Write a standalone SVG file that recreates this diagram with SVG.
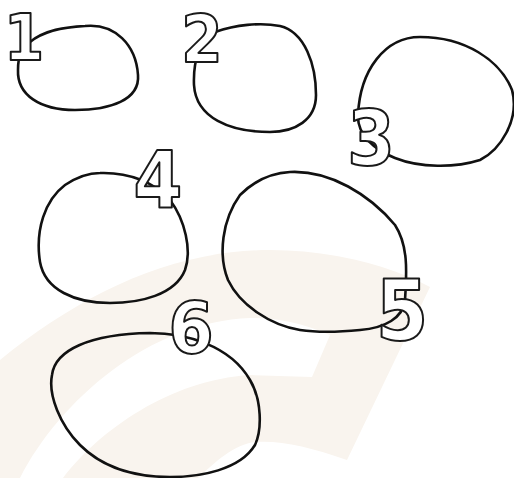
<svg xmlns="http://www.w3.org/2000/svg" width="514" height="478" viewBox="0 0 514 478">
<style>
.blob{fill:none;stroke:#111;stroke-width:2.6;stroke-linejoin:round;stroke-linecap:round}
.num{font-family:"DejaVu Sans Condensed","DejaVu Sans",sans-serif;font-weight:bold;font-stretch:condensed;fill:#fff;stroke:#1a1a1a;stroke-width:2;stroke-linejoin:round;text-anchor:middle}
.bg{fill:#f9f4ee}
</style>
<rect width="514" height="478" fill="#fff"/>
<path class="bg" d="M0,360 C80,295 170,250 270,250 C330,250 390,265 430,287 L347,460 C310,447 280,440 255,442 C235,444 215,462 198,478 L63,478 C100,430 170,380 250,375 L312,377 L330,335 C300,322 275,318 250,318 C150,322 60,400 20,478 L0,478 Z"/>
<g id="connectors"/>
<g id="node1">
<path class="blob" d="M30,42 C45,30 65,27 85,26 C115,23 136,45 138,75 C140,100 110,110 75,110 C40,110 17,95 18,70 C18,55 22,48 30,42 Z"/>
<text class="num" x="24" y="60" font-size="64">1</text>
</g>
<g id="node2">
<path class="blob" d="M215,32 C235,25 260,22 280,26 C305,32 316,65 316,95 C316,120 295,132 270,132 C230,132 196,118 194,85 C193,60 200,40 215,32 Z"/>
<text class="num" x="202" y="62" font-size="66">2</text>
</g>
<g id="node3">
<path class="blob" d="M358,115 C360,70 385,37 420,37 C465,37 500,60 512,90 C520,120 500,150 480,160 C455,168 420,168 395,158 C375,150 357,135 358,115 Z"/>
<text class="num" x="371" y="165" font-size="76">3</text>
</g>
<g id="node4">
<path class="blob" d="M100,173 C130,172 155,183 170,200 C185,220 192,250 185,270 C175,295 140,303 110,303 C75,303 45,290 40,262 C35,230 45,200 65,185 C77,177 90,173 100,173 Z"/>
<text class="num" x="158" y="207" font-size="78">4</text>
</g>
<g id="node5">
<path class="blob" d="M290,172 C330,170 370,195 395,225 C408,245 407,270 405,300 C403,318 385,328 360,330 C340,332 320,333 300,330 C270,325 240,305 228,280 C218,255 222,220 240,195 C255,180 272,173 290,172 Z"/>
<text class="num" x="402" y="340" font-size="84">5</text>
</g>
<g id="node6">
<path class="blob" d="M150,333 C185,333 230,345 250,380 C262,400 262,430 255,445 C240,470 200,477 170,477 C130,477 100,465 80,445 C60,425 48,395 52,375 C55,350 90,334 150,333 Z"/>
<text class="num" x="191" y="353" font-size="72">6</text>
</g>
</svg>
